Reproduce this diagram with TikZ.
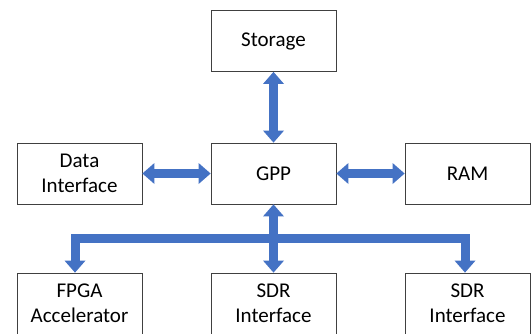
\documentclass[tikz,border=0pt]{standalone}
\usepackage{fontspec}
\setmainfont{Carlito}
\usepackage{tikz}
\usetikzlibrary{arrows.meta}
\definecolor{arrblue}{HTML}{4472C4}

\begin{document}
\begin{tikzpicture}[x=1pt,y=-1pt,
	every node/.style={draw=black!75,line width=0.8pt,minimum width=125pt,minimum height=61pt,
		inner sep=0pt,align=center,font=\fontsize{21}{25}\selectfont},
	blk/.style={arrblue,line width=9pt,
		{Triangle[length=12pt,width=21pt,line width=0pt,fill=arrblue]}-{Triangle[length=12pt,width=21pt,line width=0pt,fill=arrblue]}}]
		\useasboundingbox (0,0) rectangle (532,333);
		\node (stor) at (273.5,41) {Storage};
		\node (data) at (79.5,173.5) {Data\\Interface};
		\node (gpp) at (273.5,173.5) {GPP};
		\node (ram) at (467.5,173.5) {RAM};
		\node (fpga) at (79.5,303.5) {FPGA\\Accelerator};
		\node (sdra) at (273.5,303.5) {SDR\\Interface};
		\node (sdrb) at (467.5,303.5) {SDR\\Interface};
		\coordinate (busL) at (75,238);
		\coordinate (busR) at (465,238);
		%
		\draw[blk]
			%Vertical arrows
			(stor) edge (gpp)
			(gpp) edge (sdra)
			
			%Horizontal arrows
			(data) edge (gpp)
			(gpp) edge (ram)
		;
		
		%Bus
		\draw[blk] (fpga.north -| busL) -- (busL) -- (busR) -- (sdrb.north -| busR);
		
	\end{tikzpicture}
\end{document}
